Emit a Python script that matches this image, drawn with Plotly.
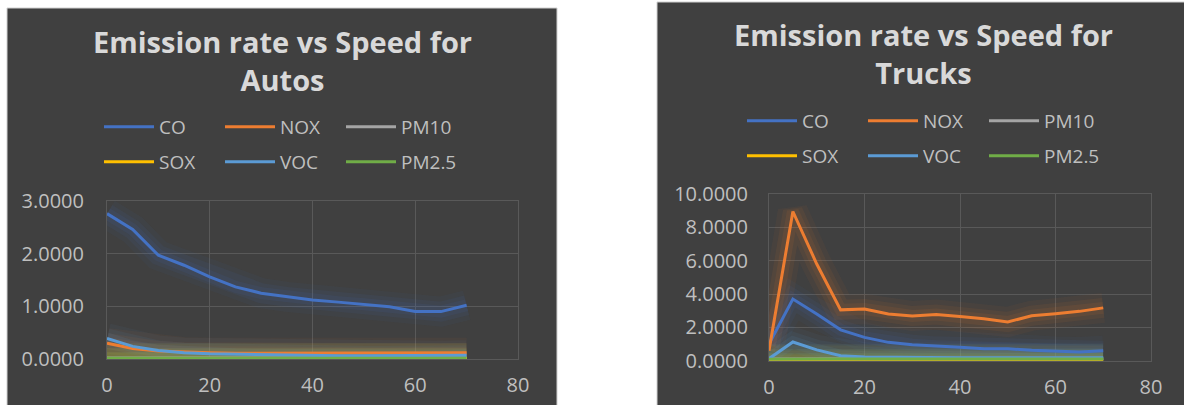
import plotly.graph_objects as go

# Vehicle speed (mph) shared by both charts
speed = [0, 5, 10, 15, 20, 25, 30, 35, 40, 45, 50, 55, 60, 65, 70]

# Emission rates for autos
co_auto = [2.76, 2.46, 1.97, 1.78, 1.56, 1.37, 1.25, 1.18, 1.12, 1.08, 1.04, 0.99, 0.90, 0.90, 1.02]
nox_auto = [0.30, 0.20, 0.15, 0.13, 0.12, 0.11, 0.11, 0.11, 0.11, 0.11, 0.11, 0.11, 0.11, 0.11, 0.12]
pm10_auto = [0.02, 0.02, 0.02, 0.02, 0.02, 0.02, 0.02, 0.02, 0.02, 0.02, 0.02, 0.02, 0.02, 0.02, 0.02]
sox_auto = [0.01, 0.01, 0.01, 0.01, 0.01, 0.01, 0.01, 0.01, 0.01, 0.01, 0.01, 0.01, 0.01, 0.01, 0.01]
voc_auto = [0.39, 0.24, 0.16, 0.12, 0.10, 0.09, 0.08, 0.07, 0.07, 0.06, 0.06, 0.06, 0.06, 0.06, 0.07]
pm25_auto = [0.015, 0.015, 0.015, 0.015, 0.015, 0.015, 0.015, 0.015, 0.015, 0.015, 0.015, 0.015, 0.015, 0.015, 0.015]

# Emission rates for trucks
co_truck = [1.00, 3.70, 2.80, 1.85, 1.40, 1.10, 0.96, 0.86, 0.80, 0.72, 0.72, 0.62, 0.55, 0.52, 0.60]
nox_truck = [0.60, 8.95, 5.80, 3.05, 3.10, 2.80, 2.68, 2.77, 2.65, 2.52, 2.32, 2.70, 2.82, 2.96, 3.17]
pm10_truck = [0.10, 0.11, 0.11, 0.11, 0.11, 0.11, 0.11, 0.11, 0.11, 0.11, 0.11, 0.11, 0.11, 0.11, 0.11]
sox_truck = [0.01, 0.01, 0.01, 0.01, 0.01, 0.01, 0.01, 0.01, 0.01, 0.01, 0.01, 0.01, 0.01, 0.01, 0.01]
voc_truck = [0.12, 1.12, 0.65, 0.30, 0.22, 0.20, 0.19, 0.18, 0.18, 0.17, 0.17, 0.16, 0.16, 0.16, 0.17]
pm25_truck = [0.08, 0.10, 0.10, 0.10, 0.10, 0.10, 0.10, 0.10, 0.10, 0.10, 0.10, 0.10, 0.10, 0.10, 0.10]

names = ["CO", "NOX", "PM10", "SOX", "VOC", "PM2.5"]
colors = ["#4472c4", "#ed7d31", "#a5a5a5", "#ffc000", "#5b9bd5", "#70ad47"]
auto_series = [co_auto, nox_auto, pm10_auto, sox_auto, voc_auto, pm25_auto]
truck_series = [co_truck, nox_truck, pm10_truck, sox_truck, voc_truck, pm25_truck]

W, H = 1184, 405
PANEL = "#404040"
GRID = "#595959"
TICK_COLOR = "#bfbfbf"
TITLE_COLOR = "#d9d9d9"
FONT = "Open Sans"


def px(x):
    return x / W


def py(y):
    return 1 - y / H


def rgba(hex_color, a):
    h = hex_color.lstrip("#")
    r, g, b = int(h[0:2], 16), int(h[2:4], 16), int(h[4:6], 16)
    return f"rgba({r},{g},{b},{a})"


fig = go.Figure()

charts = [
    # (series, x axis, y axis, legends for row 1 / row 2)
    (auto_series, "x", "y", "legend", "legend2"),
    (truck_series, "x2", "y2", "legend3", "legend4"),
]

for series, xa, ya, leg_a, leg_b in charts:
    # soft glow under every line
    for vals, col in zip(series, colors):
        for width, alpha in [(30, 0.05), (20, 0.07), (12, 0.09)]:
            fig.add_trace(go.Scatter(
                x=speed, y=vals, mode="lines", xaxis=xa, yaxis=ya,
                line=dict(color=rgba(col, alpha), width=width),
                showlegend=False, hoverinfo="skip",
            ))
    for i, (vals, col, name) in enumerate(zip(series, colors, names)):
        fig.add_trace(go.Scatter(
            x=speed, y=vals, mode="lines", name=name, xaxis=xa, yaxis=ya,
            line=dict(color=col, width=3),
            legend=leg_a if i < 3 else leg_b,
        ))

axis_common = dict(
    showgrid=True, gridcolor=GRID, gridwidth=1,
    zeroline=False, showline=True, linecolor=GRID, linewidth=1, mirror=True,
    ticks="", tickfont=dict(family=FONT, size=20, color=TICK_COLOR),
)

legend_common = dict(
    orientation="h", bgcolor="rgba(0,0,0,0)", borderwidth=0,
    font=dict(family=FONT, size=19, color=TICK_COLOR),
    entrywidth=56, entrywidthmode="pixels", itemwidth=50,
    xanchor="left", yanchor="middle", tracegroupgap=0,
    itemclick=False, itemdoubleclick=False,
)

fig.update_layout(
    width=W, height=H,
    margin=dict(l=0, r=0, t=0, b=0, autoexpand=False),
    paper_bgcolor="white",
    plot_bgcolor="rgba(0,0,0,0)",
    showlegend=True,
    xaxis=dict(domain=[px(107), px(518)], range=[0, 80], dtick=20, anchor="y",
               ticklabelstandoff=8, **axis_common),
    yaxis=dict(domain=[py(359), py(201)], range=[0, 3], dtick=1, tickformat=".4f",
               anchor="x", ticklabelstandoff=18, **axis_common),
    xaxis2=dict(domain=[px(769), px(1151)], range=[0, 80], dtick=20, anchor="y2",
                ticklabelstandoff=8, **axis_common),
    yaxis2=dict(domain=[py(360.7), py(194)], range=[0, 10], dtick=2, tickformat=".4f",
                anchor="x2", ticklabelstandoff=16, **axis_common),
    legend=dict(x=px(99), y=py(127), **legend_common),
    legend2=dict(x=px(99), y=py(162), **legend_common),
    legend3=dict(x=px(742), y=py(121), **legend_common),
    legend4=dict(x=px(742), y=py(156), **legend_common),
    shapes=[
        dict(type="rect", xref="paper", yref="paper", layer="below",
             x0=px(7), x1=px(557), y0=-0.05, y1=py(8),
             fillcolor=PANEL, line=dict(color="#d0d0d0", width=1)),
        dict(type="rect", xref="paper", yref="paper", layer="below",
             x0=px(657), x1=1.02, y0=-0.05, y1=py(2),
             fillcolor=PANEL, line=dict(color="#d0d0d0", width=1)),
    ],
)

title_font = dict(family=FONT, size=29, color=TITLE_COLOR)
titles = [
    (282, 60, "<b>Emission rate vs Speed for</b><br><b>Autos</b>"),
    (923, 54, "<b>Emission rate vs Speed for</b><br><b>Trucks</b>"),
]
for cx, cy, text in titles:
    fig.add_annotation(x=px(cx), y=py(cy), xref="paper", yref="paper",
                       text=text, showarrow=False, font=title_font,
                       xanchor="center", yanchor="middle")

fig.write_html("out.html")
